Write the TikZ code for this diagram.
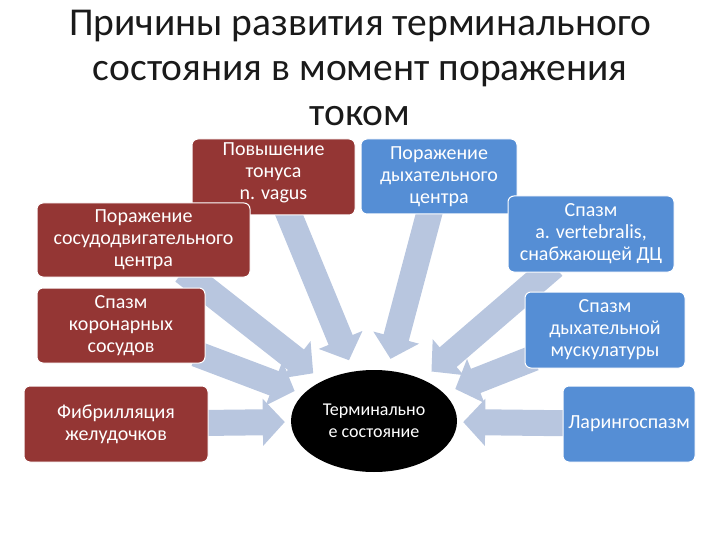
\documentclass[tikz,border=0pt]{standalone}
\usepackage{fontspec}
\setmainfont{Carlito}
\usetikzlibrary{arrows.meta,backgrounds,shapes.geometric}
\definecolor{CauseRed}{HTML}{943634}
\definecolor{CauseBlue}{HTML}{558ED5}
\definecolor{ArrowMist}{HTML}{B8C6DF}
\definecolor{TitleInk}{HTML}{1A1A1A}
\tikzset{
  causebox/.style={
    rounded corners=6pt, draw=white, line width=1pt, text=white,
    align=center, inner sep=2pt, font=\fontsize{20}{22}\selectfont
  },
  cardio/.style={causebox, fill=CauseRed},
  resp/.style={causebox, fill=CauseBlue},
  terminal/.style={
    ellipse, fill=black, text=white, minimum width=166pt, minimum height=102pt,
    align=center, inner sep=0pt, font=\fontsize{18}{22}\selectfont
  },
  blockarrow/.style={
    draw=ArrowMist, line width=26pt, -{Triangle[length=22pt,width=46pt]},
    shorten >=12pt, shorten <=-10pt
  }
}

\begin{document}
\begin{tikzpicture}[x=1pt,y=-1pt]
  \useasboundingbox (0,0) rectangle (720,540);
  \node[font=\fontsize{39.5}{45}\selectfont, text=TitleInk, align=center] (title) at (360,68)
    {Причины развития терминального\\состояния в момент поражения\\током};
  % causes
  \node[cardio, minimum width=163pt, minimum height=76pt, text depth=11pt] (vagus) at (273.5,177) {Повышение\\тонуса\\n. vagus};
  \node[cardio, minimum width=213pt, minimum height=74pt] (vasomotor) at (143.5,240) {Поражение\\сосудодвигательного\\центра};
  \node[resp, minimum width=156pt, minimum height=75pt] (respcentre) at (439,176.5) {Поражение\\дыхательного\\центра};
  \node[resp, minimum width=166pt, minimum height=76pt] (vertebral) at (591,234) {Спазм\\a. vertebralis,\\снабжающей ДЦ};
  \node[cardio, minimum width=168pt, minimum height=75pt] (coronary) at (121,325.5) {Спазм\\коронарных\\сосудов};
  \node[resp, minimum width=160pt, minimum height=76pt] (muscles) at (605,330) {Спазм\\дыхательной\\мускулатуры};
  \node[cardio, minimum width=184pt, minimum height=76pt] (fibrill) at (116,424) {Фибрилляция\\желудочков};
  \node[resp, minimum width=132pt, minimum height=76pt] (laryngo) at (629,424) {Ларингоспазм};
  % outcome
  \node[terminal] (term) at (374,421) {Терминально\\е состояние};
  \begin{scope}[on background layer]
    \draw[blockarrow] (vagus) -- (term);
    \draw[blockarrow] (respcentre) -- (term);
    \draw[blockarrow] (vertebral) -- (term);
    \draw[blockarrow] (muscles) -- (term);
    \draw[blockarrow] (vasomotor) -- (term);
    \draw[blockarrow, shorten >=9pt] (coronary) -- (term);
    \draw[blockarrow, shorten >=6pt] (fibrill) -- (term);
    \draw[blockarrow, shorten >=6pt] (laryngo) -- (term);
  \end{scope}
\end{tikzpicture}
\end{document}
